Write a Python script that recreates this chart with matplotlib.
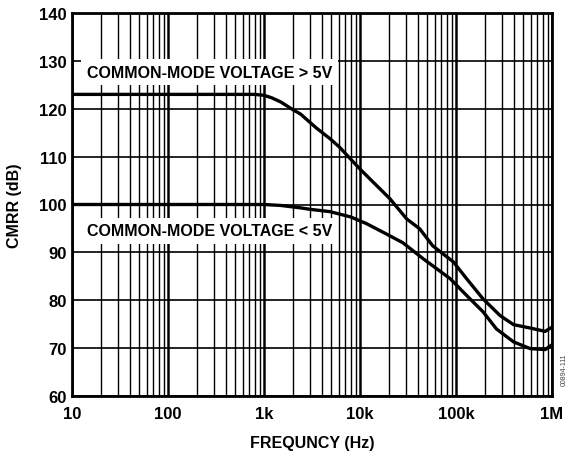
import matplotlib

matplotlib.use("Agg")
import matplotlib.pyplot as plt
import numpy as np
from matplotlib.ticker import FixedLocator, LogLocator, NullFormatter

plt.rcParams["font.family"] = ["Liberation Sans", "DejaVu Sans"]
plt.rcParams["font.weight"] = "bold"

# CMRR vs frequency
freq_hi = [10, 100, 500, 800, 1000, 1200, 1500, 2000, 2400, 3500, 4900, 6100, 10000, 20500,
           30600, 42000, 57000, 94000, 129000, 191000, 288000, 398000, 592000, 850000, 1000000]
cmrr_hi = [123, 123, 123, 123, 122.8, 122.3, 121.4, 119.8, 118.9, 116.0, 113.7, 112.0, 107.4, 101.2,
           97.0, 94.9, 91.4, 88.0, 84.5, 80.3, 76.8, 74.9, 74.2, 73.5, 74.4]

freq_lo = [10, 100, 500, 1000, 1500, 2400, 3000, 4900, 8000, 11700, 19000, 28000, 46000, 87000,
           129000, 191000, 264000, 398000, 592000, 850000, 1000000]
cmrr_lo = [100, 100, 100, 100, 99.8, 99.3, 99.0, 98.5, 97.4, 96.0, 93.8, 92.0, 88.6, 84.5,
           81.0, 77.6, 74.0, 71.3, 69.9, 69.7, 70.7]

x_ticks = [10, 100, 1e3, 1e4, 1e5, 1e6]
x_labels = ["10", "100", "1k", "10k", "100k", "1M"]
y_ticks = [60, 70, 80, 90, 100, 110, 120, 130, 140]

fig = plt.figure(figsize=(5.67, 4.56), dpi=100)
ax = fig.add_axes([72 / 567, 1 - 397 / 456, 480 / 567, 383 / 456])

ax.set_xscale("log")
ax.set_xlim(10, 1e6)
ax.set_ylim(60, 140)

# grid: minor decades thin, decades heavier
ax.xaxis.set_major_locator(FixedLocator(x_ticks))
ax.xaxis.set_minor_locator(LogLocator(base=10, subs=np.arange(2, 10)))
ax.xaxis.set_minor_formatter(NullFormatter())
ax.set_xticks(x_ticks, x_labels)
ax.set_yticks(y_ticks)
ax.grid(True, which="major", axis="x", color="black", lw=1.8)
ax.grid(True, which="minor", axis="x", color="black", lw=1.0)
ax.grid(True, which="major", axis="y", color="black", lw=1.2)
ax.tick_params(which="both", length=0, labelsize=12)
ax.tick_params(axis="x", pad=7)
ax.tick_params(axis="y", pad=4)
for s in ax.spines.values():
    s.set_linewidth(2)

ax.plot(freq_hi, cmrr_hi, color="black", lw=2.4, zorder=3)
ax.plot(freq_lo, cmrr_lo, color="black", lw=2.4, zorder=3)

box = dict(facecolor="white", edgecolor="none", pad=4)
ax.text(14.3, 127.6, "COMMON-MODE VOLTAGE > 5V", fontsize=11.5, fontweight="bold",
        va="center", ha="left", bbox=box, zorder=2)
ax.text(14.3, 94.5, "COMMON-MODE VOLTAGE < 5V", fontsize=11.5, fontweight="bold",
        va="center", ha="left", bbox=box, zorder=2)

ax.set_xlabel("FREQUNCY (Hz)", fontsize=11.5, fontweight="bold", labelpad=10)
ax.set_ylabel("CMRR (dB)", fontsize=11.5, fontweight="bold", labelpad=12)

fig.text(564 / 567, 1 - 370 / 456, "00894-111", rotation=90, fontsize=5,
         fontweight="normal", ha="center", va="center", color="#444444")

fig.savefig("out.png", dpi=100)
